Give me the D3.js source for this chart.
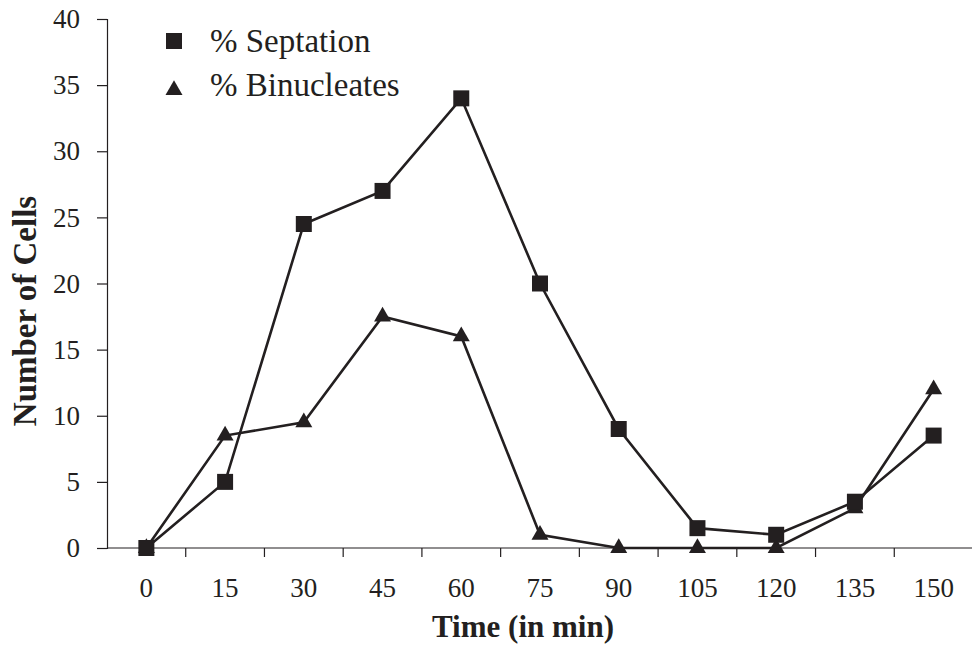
<!DOCTYPE html>
<html>
<head>
<meta charset="utf-8">
<script src="https://cdn.jsdelivr.net/npm/d3@7"></script>
<style>
  body { margin: 0; background: #fff; }
</style>
</head>
<body>
<div id="chart"></div>
<script>
// data
const times = ["0", "15", "30", "45", "60", "75", "90", "105", "120", "135", "150"];
const septation = [0, 5, 24.5, 27, 34, 20, 9, 1.5, 1, 3.5, 8.5];
const binucleates = [0, 8.5, 9.5, 17.5, 16, 1, 0, 0, 0, 3, 12];
const yTicks = [0, 5, 10, 15, 20, 25, 30, 35, 40];

const W = 972, H = 648;
const ink = "#231f20";
const serif = "Liberation Serif";
const svg = d3.select("#chart").append("svg").attr("width", W).attr("height", H);

const x = d3.scaleBand().domain(times).range([107, 973]);
const y = d3.scaleLinear().domain([0, 40]).range([548, 19]);
const cx = d => x(d) + x.bandwidth() / 2;

// y axis
const yAxis = svg.append("g")
  .attr("transform", "translate(107,0)")
  .call(d3.axisLeft(y).tickValues(yTicks).tickSize(10).tickPadding(17));
yAxis.attr("font-family", null).attr("font-size", null);
yAxis.selectAll("line, path").attr("stroke", ink).attr("stroke-width", 1.2);
yAxis.selectAll("text")
  .attr("font-family", serif).attr("font-size", 27).attr("fill", ink);

// x axis: ticks between categories
const xAxis = svg.append("g").attr("transform", "translate(0,548)");
xAxis.append("line").attr("x1", 107).attr("x2", 973).attr("stroke", ink).attr("stroke-width", 1.2);
xAxis.selectAll("line.tk")
  .data(times.slice(1))
  .join("line").attr("class", "tk")
  .attr("x1", d => x(d)).attr("x2", d => x(d))
  .attr("y1", 0).attr("y2", 9)
  .attr("stroke", ink).attr("stroke-width", 1.2);
xAxis.selectAll("text")
  .data(times)
  .join("text")
  .attr("x", cx).attr("y", 49)
  .attr("text-anchor", "middle")
  .attr("font-family", serif).attr("font-size", 27).attr("fill", ink)
  .text(d => d);

// axis titles
svg.append("text")
  .attr("x", 523).attr("y", 637)
  .attr("text-anchor", "middle")
  .attr("font-family", serif).attr("font-size", 31).attr("font-weight", "bold").attr("fill", ink)
  .text("Time (in min)");
svg.append("text")
  .attr("transform", "translate(36,311) rotate(-90)")
  .attr("text-anchor", "middle")
  .attr("font-family", serif).attr("font-size", 33).attr("font-weight", "bold").attr("fill", ink)
  .text("Number of Cells");

// lines
const line = d3.line().x((d, i) => cx(times[i])).y(d => y(d));
[septation, binucleates].forEach(s => {
  svg.append("path")
    .attr("d", line(s))
    .attr("fill", "none").attr("stroke", ink).attr("stroke-width", 2.6);
});

const sq = d3.symbol().type(d3.symbolSquare).size(16 * 16);
const tri = d3.symbol().type(d3.symbolTriangle).size(125);

svg.append("g").selectAll("path")
  .data(binucleates)
  .join("path")
  .attr("transform", (d, i) => `translate(${cx(times[i])},${y(d)})`)
  .attr("d", tri).attr("fill", ink);

svg.append("g").selectAll("path")
  .data(septation)
  .join("path")
  .attr("transform", (d, i) => `translate(${cx(times[i])},${y(d)})`)
  .attr("d", sq).attr("fill", ink);

// legend
const legend = svg.append("g");
legend.append("path").attr("transform", "translate(174,41)").attr("d", sq).attr("fill", ink);
legend.append("path").attr("transform", "translate(174,90)").attr("d", tri).attr("fill", ink);
legend.selectAll("text")
  .data(["% Septation", "% Binucleates"])
  .join("text")
  .attr("x", 210).attr("y", (d, i) => 52 + i * 44)
  .attr("font-family", serif).attr("font-size", 33).attr("fill", ink)
  .text(d => d);
</script>
</body>
</html>
